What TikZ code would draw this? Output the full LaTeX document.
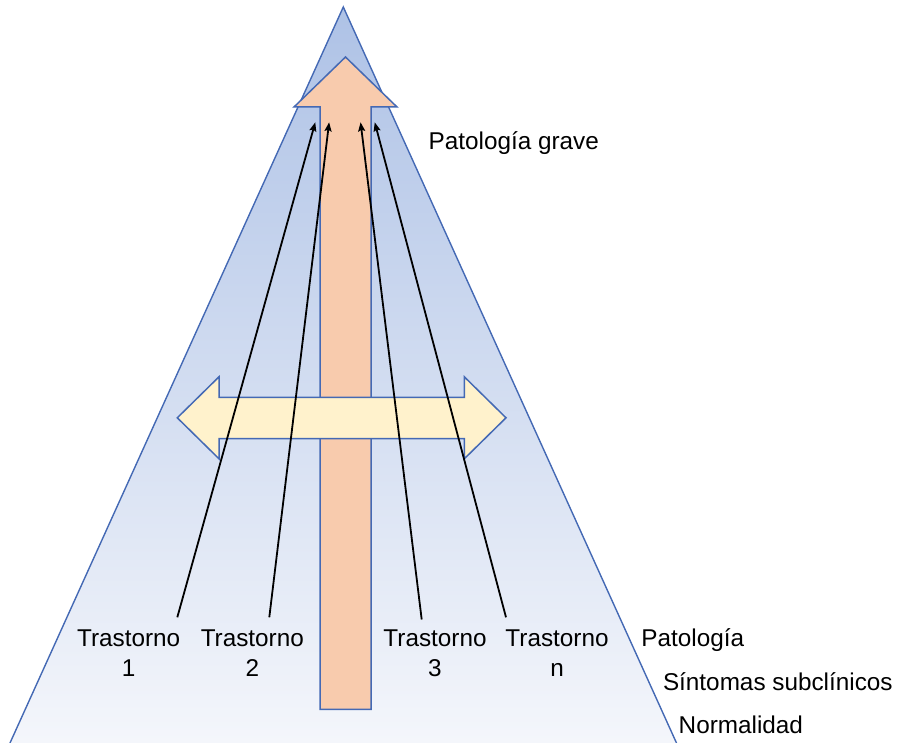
\documentclass[tikz,border=0pt]{standalone}
\usepackage{fontspec}
\setmainfont{Liberation Sans}
\usetikzlibrary{arrows.meta,calc}
\definecolor{edgeblue}{RGB}{68,105,180}
\definecolor{tritop}{RGB}{174,194,230}
\definecolor{tribot}{RGB}{244,246,251}
\definecolor{upfill}{RGB}{248,203,173}
\definecolor{hfill}{RGB}{255,242,204}
\tikzset{
  shapeline/.style={draw=edgeblue, line width=1.5pt, line join=miter},
  lbl/.style={font=\fontsize{24.3}{30.6}\selectfont, inner sep=0pt, align=center},
  side/.style={font=\fontsize{24.3}{30.6}\selectfont, inner sep=0pt, anchor=base west},
  conn/.style={draw=black, line width=1.8pt, -{Stealth[length=9pt,width=7pt,inset=1.5pt]}, shorten >=-1pt}
}
\begin{document}
\begin{tikzpicture}[x=1pt,y=-1pt]
\useasboundingbox (0,0) rectangle (907,743);
% pyramid
\coordinate (apex) at (343.3,7);
\coordinate (bl) at (10,743);
\coordinate (br) at (676.5,743);
\shade[top color=tritop, bottom color=tribot] (apex) -- (br) -- (bl) -- cycle;
\draw[draw=edgeblue, line width=1.4pt] (bl) -- (apex) -- (br);
% vertical arrow
\path[shapeline, fill=upfill] (320,709.3) -- (320,107) -- (294,107) -- (345.5,57) -- (397,107) -- (371,107) -- (371,709.3) -- cycle;
% horizontal double arrow
\path[shapeline, fill=hfill] (177.3,417.8) -- (219,376.8) -- (219,397.3) -- (464.3,397.3) -- (464.3,376.8) -- (506,417.8) -- (464.3,458.8) -- (464.3,438.5) -- (219,438.5) -- (219,458.8) -- cycle;
% labels
\node[lbl, anchor=north] (t1) at (128.7,629.3) {Trastorno\\1};
\node[lbl, anchor=north] (t2) at (252.3,629.3) {Trastorno\\2};
\node[lbl, anchor=north] (t3) at (435,629.3) {Trastorno\\3};
\node[lbl, anchor=north] (tn) at (557,629.3) {Trastorno\\n};
\node[side] (grave) at (428.5,150) {Patología grave};
\node[side] (pat) at (641.2,646.5) {Patología};
\node[side] (sint) at (662.8,690) {Síntomas subclínicos};
\node[side] (norm) at (678.5,733) {Normalidad};
% connector ends
\coordinate (s1) at (177.3,617.3);
\coordinate (s2) at (269.3,617.3);
\coordinate (s3) at (421.7,619.5);
\coordinate (s4) at (506,617.3);
\coordinate (e1) at (315,123.3);
\coordinate (e2) at (329,123.3);
\coordinate (e3) at (360.7,123.3);
\coordinate (e4) at (375,123.3);
\draw[conn] (s1) -- (e1);
\draw[conn] (s2) -- (e2);
\draw[conn] (s3) -- (e3);
\draw[conn] (s4) -- (e4);
\end{tikzpicture}
\end{document}
